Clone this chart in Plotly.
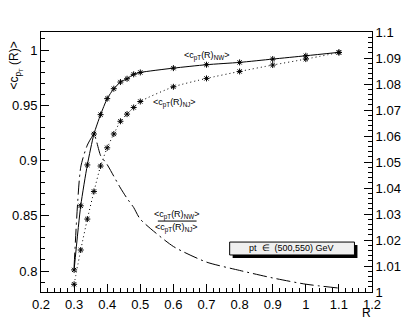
import plotly.graph_objects as go

# data
r_vals = [0.30, 0.32, 0.34, 0.36, 0.38, 0.40, 0.42, 0.44, 0.46, 0.48,
          0.5, 0.6, 0.7, 0.8, 0.9, 1.0, 1.1]
c_nw = [0.801, 0.859, 0.896, 0.924, 0.9415, 0.956, 0.965, 0.971, 0.974, 0.978,
        0.9797, 0.9836, 0.9867, 0.9888, 0.9918, 0.9948, 0.9979]
c_nj = [0.788, 0.819, 0.847, 0.872, 0.895, 0.9115, 0.924, 0.9355, 0.942, 0.948,
        0.9534, 0.9667, 0.9743, 0.9806, 0.9864, 0.9918, 0.9977]
ratio = [1.0097, 1.048, 1.0565, 1.0605, 1.0525, 1.049, 1.0445, 1.040, 1.036, 1.0325,
         1.028, 1.0175, 1.0115, 1.0083, 1.0054, 1.0030, 1.0015]

font = "Liberation Sans, Arial, sans-serif"
star = dict(symbol="asterisk-open", size=5, color="black", line=dict(width=1, color="#222"))

fig = go.Figure()
fig.add_trace(go.Scatter(x=r_vals, y=c_nw, mode="lines+markers", name="NW",
                         line=dict(color="black", width=1, shape="spline", smoothing=0.6),
                         marker=star))
fig.add_trace(go.Scatter(x=r_vals, y=c_nj, mode="lines+markers", name="NJ",
                         line=dict(color="black", width=1, dash="1px,3px", shape="spline", smoothing=0.6),
                         marker=star))
fig.add_trace(go.Scatter(x=r_vals, y=ratio, mode="lines", name="ratio", yaxis="y2",
                         line=dict(color="black", width=1, dash="14px,4px,2px,4px",
                                   shape="spline", smoothing=0.6)))

axis_common = dict(showgrid=False, zeroline=False, showline=True, linecolor="black", linewidth=1,
                   ticks="inside", ticklen=8, tickcolor="black", automargin=False,
                   tickfont=dict(family=font, size=13, color="black"))

# page body adds an 8px offset, margins compensate for it
fig.update_layout(
    width=415, height=324, showlegend=False,
    margin=dict(l=33, r=51, t=24, b=40),
    paper_bgcolor="white", plot_bgcolor="white",
    font=dict(family=font, color="black"),
    xaxis=dict(range=[0.2, 1.2], dtick=0.1, mirror=True,
               minor=dict(ticks="inside", dtick=0.02, ticklen=4, tickcolor="black"),
               **axis_common),
    yaxis=dict(range=[0.781, 1.0163], dtick=0.05,
               minor=dict(ticks="inside", dtick=0.01, ticklen=4, tickcolor="black"),
               **axis_common),
    yaxis2=dict(range=[1.0, 1.1], dtick=0.01, overlaying="y", side="right",
                minor=dict(ticks="inside", dtick=0.002, ticklen=4, tickcolor="black"),
                **axis_common),
)

lbl = dict(family=font, size=9, color="black")
fig.add_annotation(x=0.70, y=0.9946, text="&lt;c<sub>pT</sub>(R)<sub>NW</sub>&gt;",
                   showarrow=False, font=lbl)
fig.add_annotation(x=0.604, y=0.952, text="&lt;c<sub>pT</sub>(R)<sub>NJ</sub>&gt;",
                   showarrow=False, font=lbl)
fig.add_annotation(x=0.61, y=0.8507, text="&lt;c<sub>pT</sub>(R)<sub>NW</sub>&gt;",
                   showarrow=False, font=lbl)
fig.add_annotation(x=0.61, y=0.8389, text="&lt;c<sub>pT</sub>(R)<sub>NJ</sub>&gt;",
                   showarrow=False, font=lbl)
fig.add_shape(type="line", x0=0.553, x1=0.67, y0=0.8452, y1=0.8452,
              line=dict(color="black", width=1))

# legend-like box with shadow
fig.add_shape(type="rect", x0=0.779, x1=1.156, y0=0.8118, y1=0.8235,
              fillcolor="black", line=dict(width=0))
fig.add_shape(type="rect", x0=0.77, x1=1.147, y0=0.8145, y1=0.8262,
              fillcolor="#efefef", line=dict(color="black", width=1))
fig.add_annotation(x=0.958, y=0.8204, text="pt  \u2208  (500,550) GeV",
                   showarrow=False, font=lbl)

fig.add_annotation(xref="paper", yref="paper", x=0.984, y=-0.081, text="R",
                   xanchor="center", yanchor="middle",
                   showarrow=False, font=dict(family=font, size=12, color="black"))
fig.add_annotation(xref="paper", yref="paper", x=-0.077, y=0.869, textangle=-90,
                   xanchor="center", yanchor="middle",
                   text="&lt;c<sub>p<sub>T</sub></sub> (R)&gt;",
                   showarrow=False, font=dict(family=font, size=12, color="black"))

fig.write_html("out.html")
